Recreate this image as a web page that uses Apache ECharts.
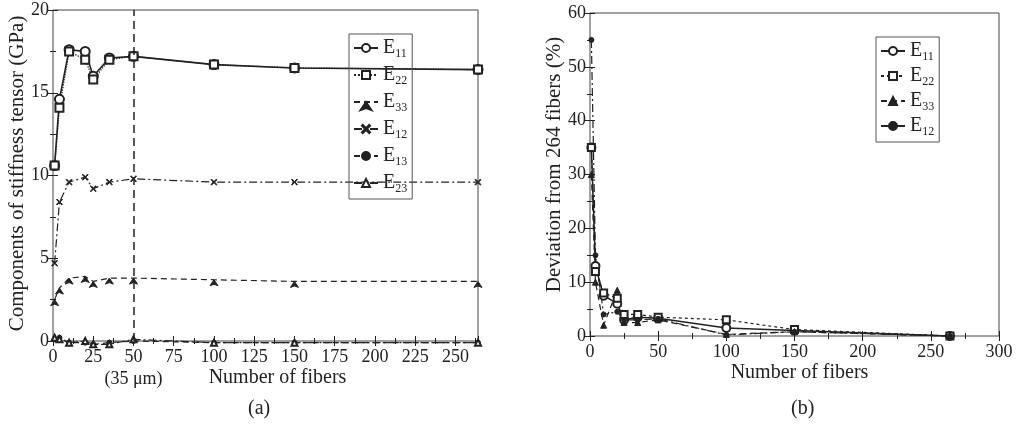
<!DOCTYPE html>
<html>
<head>
<meta charset="utf-8">
<script src="https://cdn.jsdelivr.net/npm/echarts@6/dist/echarts.min.js"></script>
<style>
	html,body{margin:0;padding:0;background:#fff;}
	#chart{width:1017px;height:426px;}
</style>
</head>
<body>
<div id="chart"></div>
<script>
// number of fibers (both panels)
var fibers = [1, 4, 10, 20, 25, 35, 50, 100, 150, 264];
var cutoff = 50;

// (a) stiffness components, GPa
var aE11 = [10.6, 14.6, 17.6, 17.5, 16.0, 17.1, 17.2, 16.7, 16.5, 16.4];
var aE22 = [10.6, 14.1, 17.5, 17.0, 15.8, 17.0, 17.2, 16.7, 16.5, 16.4];
var aE33 = [2.5, 3.2, 3.8, 3.9, 3.6, 3.8, 3.8, 3.7, 3.6, 3.6];
var aE12 = [4.7, 8.4, 9.6, 9.9, 9.2, 9.6, 9.8, 9.6, 9.6, 9.6];
var aE13 = [0.1, 0.2, -0.1, -0.1, -0.2, -0.1, 0.0, -0.1, -0.1, -0.1];
var aE23 = [0.2, 0.1, -0.1, 0.0, -0.2, -0.2, 0.1, -0.1, -0.1, -0.1];

// (b) deviation from 264 fibers, %
var bE11 = [35, 13, 7.5, 6, 3, 3.5, 3.3, 1.5, 1.0, 0];
var bE22 = [35, 12, 8, 7, 4, 4, 3.5, 3.0, 1.2, 0];
var bE33 = [30, 10, 2, 8.5, 2.5, 2.5, 3, 0.3, 0.8, 0];
var bE12 = [55, 15, 4, 4.5, 3, 3, 3.2, 0.2, 0.8, 0];

var ticksA = {xMax: 264, xStep: 25, yMax: 20, yStep: 5};
var ticksB = {xMax: 300, xStep: 50, yMax: 60, yStep: 10};

var ink = '#222';
var font = 'Liberation Serif';
var xMark = 'path://M0,1L1,0L5,4L9,0L10,1L6,5L10,9L9,10L5,6L1,10L0,9L4,5Z';

function pairs(ys){
	var out = [];
	for(var i=0;i<fibers.length;i++){
		out.push([fibers[i], ys[i]]);
	}
	return out;
}

function mkSeries(name, ys, panel, dash, symbol, size, width){
	return {
		name: name,
		type: 'line',
		xAxisIndex: panel*2,
		yAxisIndex: panel*2,
		data: pairs(ys),
		symbol: symbol,
		symbolSize: size,
		clip: false,
		lineStyle: {color: ink, width: width || 1.2, type: dash},
		itemStyle: {color: ink, borderColor: ink, borderWidth: 1}
	};
}

function xAx(grid, t, top, fmt, shift){
	return {
		type: 'value', gridIndex: grid, position: top ? 'top' : 'bottom',
		min: 0, max: t.xMax, interval: t.xStep,
		axisLine: {show: false},
		axisTick: {show: true, inside: true, length: 5, lineStyle: {color: ink}},
		minorTick: {show: true, splitNumber: 2, length: 3, lineStyle: {color: ink}},
		splitLine: {show: false},
		axisLabel: {show: !top, color: ink, fontFamily: font, fontSize: 18, margin: 5, showMaxLabel: t.xMax % t.xStep === 0, formatter: fmt, lineHeight: 22},
		name: top ? '' : 'Number of fibers',
		nameLocation: 'middle', nameGap: 27, nameMoveOverlap: false,
		nameTextStyle: {color: ink, fontFamily: font, fontSize: 20, padding: [0, 0, 0, shift || 0]}
	};
}

function yAx(grid, t, right, name, shift){
	return {
		type: 'value', gridIndex: grid, position: right ? 'right' : 'left',
		min: 0, max: t.yMax, interval: t.yStep,
		axisLine: {show: false},
		axisTick: {show: true, inside: true, length: 5, lineStyle: {color: ink}},
		minorTick: {show: true, splitNumber: 2, length: 3, lineStyle: {color: ink}},
		splitLine: {show: false},
		axisLabel: {show: !right, color: ink, fontFamily: font, fontSize: 18, margin: 4},
		name: right ? '' : name,
		nameLocation: 'middle', nameGap: 25, nameMoveOverlap: false,
		nameTextStyle: {color: ink, fontFamily: font, fontSize: 21, padding: [0, 0, 0, shift || 0]}
	};
}

function legendFmt(name){
	return 'E{s|' + name.replace(/\D/g, '') + '}';
}
function mkLegend(names, left, top, gap){
	return {
		data: names, orient: 'vertical', left: left, top: top,
		itemWidth: 24, itemHeight: 10, itemGap: gap,
		padding: [4, 5, 4, 4],
		borderColor: '#555', borderWidth: 1,
		formatter: legendFmt,
		textStyle: {color: ink, fontFamily: font, fontSize: 20, rich: {s: {fontFamily: font, fontSize: 12, color: ink, padding: [12, 0, 0, 0]}}}
	};
}

var sA11 = mkSeries('E11', aE11, 0, 'solid', 'emptyCircle', 9, 1.6);
sA11.markLine = {
	silent: true, symbol: ['none', 'none'], label: {show: false},
	lineStyle: {color: ink, width: 1.5, type: [8, 5]},
	data: [{xAxis: cutoff}]
};

var option = {
	animation: false,
	backgroundColor: '#fff',
	grid: [
		{left: 53, right: 539, top: 10, bottom: 85, show: true, borderColor: '#444', borderWidth: 1},
		{left: 590, right: 18, top: 13, bottom: 90, show: true, borderColor: '#444', borderWidth: 1}
	],
	title: [
		{text: '(a)', left: 243, top: 394, textStyle: {color: ink, fontFamily: font, fontSize: 20, fontWeight: 'normal'}},
		{text: '(b)', left: 786, top: 394, textStyle: {color: ink, fontFamily: font, fontSize: 20, fontWeight: 'normal'}}
	],
	legend: [
		mkLegend(['E11', 'E22', 'E33', 'E12', 'E13', 'E23'], 349, 34, 5),
		mkLegend(['(b) E11', '(b) E22', '(b) E33', '(b) E12'], 876, 37, 3)
	],
	xAxis: [
		xAx(0, ticksA, false, function(v){ return v === cutoff ? v + '\n(35 μm)' : v; }, 24),
		xAx(0, ticksA, true),
		xAx(1, ticksB, false, null, 10),
		xAx(1, ticksB, true)
	],
	yAxis: [
		yAx(0, ticksA, false, 'Components of stiffness tensor (GPa)', 4),
		yAx(0, ticksA, true),
		yAx(1, ticksB, false, 'Deviation from 264 fibers (%)', 20),
		yAx(1, ticksB, true)
	],
	series: [
		sA11,
		mkSeries('E22', aE22, 0, 'dotted', 'emptyRect', 8, 1.3),
		mkSeries('E33', aE33, 0, [6, 4], 'arrow', 6),
		mkSeries('E12', aE12, 0, [8, 3, 2, 3], xMark, 6),
		mkSeries('E13', aE13, 0, [6, 4], 'circle', 5),
		mkSeries('E23', aE23, 0, [8, 3, 2, 3], 'emptyTriangle', 6),
		mkSeries('(b) E11', bE11, 1, 'solid', 'emptyCircle', 8, 1.5),
		mkSeries('(b) E22', bE22, 1, [3, 3], 'emptyRect', 7),
		mkSeries('(b) E33', bE33, 1, [6, 4], 'triangle', 6),
		mkSeries('(b) E12', bE12, 1, [8, 3, 2, 3], 'circle', 5)
	]
};

var myChart = echarts.init(document.getElementById('chart'));
myChart.setOption(option);
</script>
</body>
</html>
